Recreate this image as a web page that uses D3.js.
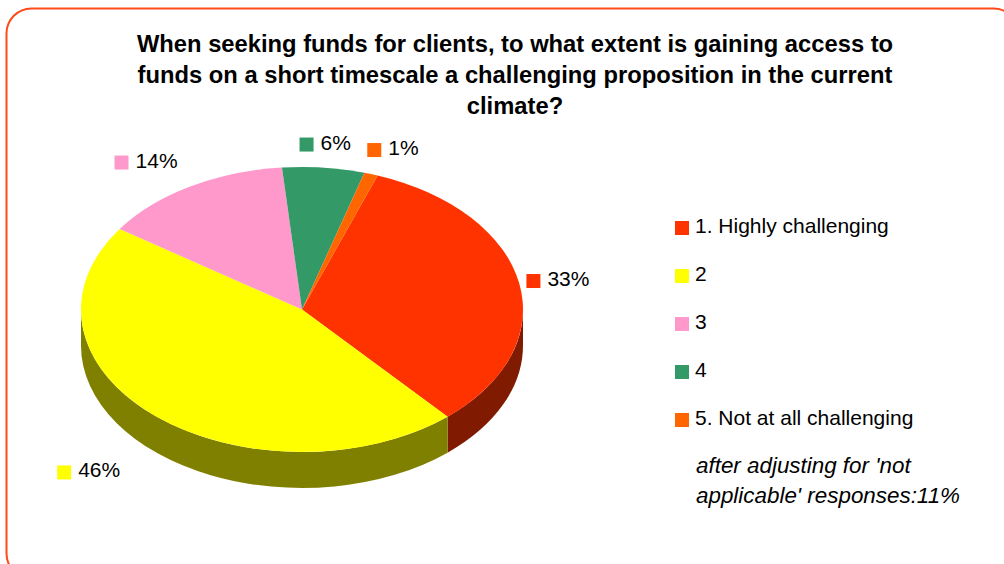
<!DOCTYPE html>
<html>
<head>
<meta charset="utf-8">
<script src="https://cdn.jsdelivr.net/npm/d3@7"></script>
<style>
  html, body { margin: 0; padding: 0; background: #ffffff; }
  svg { display: block; }
  text { font-family: Arial, "Liberation Sans", sans-serif; fill: #000; }
</style>
</head>
<body>
<svg id="chart" width="1004" height="564"></svg>
<script>
// Survey answers, share of respondents (%)
const categories = ["1. Highly challenging", "2", "3", "4", "5. Not at all challenging"];
const shares = [33, 46, 14, 6, 1];
const topColors = ["#FF3300", "#FFFF00", "#FF99CC", "#339966", "#FF6600"];
const sideColors = ["#801A00", "#808000", "#804C66", "#1A4D33", "#803300"];
const titleLines = [
  "When seeking funds for clients, to what extent is gaining access to",
  "funds on a short timescale a challenging proposition in the current",
  "climate?"
];
const noteLines = ["after adjusting for 'not", "applicable' responses:11%"];

const svg = d3.select("#chart");

// rounded frame
svg.append("rect")
  .attr("x", 6.5).attr("y", 8.5)
  .attr("width", 1012).attr("height", 570)
  .attr("rx", 25).attr("ry", 25)
  .attr("fill", "#fff")
  .attr("stroke", "#FF4A1C")
  .attr("stroke-width", 2);

// title, slightly widened
svg.append("g")
  .attr("transform", "translate(515,0) scale(1.033,1)")
  .selectAll("text")
  .data(titleLines)
  .join("text")
  .attr("x", 0)
  .attr("y", (d, i) => 52 + i * 31)
  .attr("text-anchor", "middle")
  .attr("font-weight", "bold")
  .attr("font-size", 23)
  .text(d => d);

// 3D pie geometry
const cx = 302, cy = 309.5, rx = 221, ry = 142.5, depth = 36;
const firstAngle = 20 * Math.PI / 180;

const pie = d3.pie()
  .sort(null)
  .startAngle(firstAngle)
  .endAngle(firstAngle + 2 * Math.PI)
  .value(d => d);
const arcs = pie(shares);

const ex = a => cx + rx * Math.sin(a);
const ey = a => cy - ry * Math.cos(a);

// outer wall: only the front half (angles between PI/2 and 3PI/2) is visible
function wallPath(a0, a1) {
  const segs = [];
  // the slices may wrap past 2PI; test the angle range and its shifted copies
  [0, 2 * Math.PI, -2 * Math.PI].forEach(off => {
    const s = Math.max(a0 + off, Math.PI / 2);
    const e = Math.min(a1 + off, 3 * Math.PI / 2);
    if (e > s) segs.push([s, e]);
  });
  return segs.map(([s, e]) => {
    const large = (e - s) > Math.PI ? 1 : 0;
    return `M${ex(s)},${ey(s)}` +
      `A${rx},${ry} 0 ${large} 1 ${ex(e)},${ey(e)}` +
      `L${ex(e)},${ey(e) + depth}` +
      `A${rx},${ry} 0 ${large} 0 ${ex(s)},${ey(s) + depth}Z`;
  }).join("");
}

const pieG = svg.append("g");
pieG.append("g").selectAll("path")
  .data(arcs)
  .join("path")
  .attr("d", d => wallPath(d.startAngle, d.endAngle))
  .attr("fill", (d, i) => sideColors[i]);

const arc = d3.arc().innerRadius(0).outerRadius(rx);
pieG.append("g")
  .attr("transform", `translate(${cx},${cy}) scale(1,${ry / rx})`)
  .selectAll("path")
  .data(arcs)
  .join("path")
  .attr("d", arc)
  .attr("fill", (d, i) => topColors[i]);

// percentage labels, set outside each slice at its mid angle
const labelFont = 21, keySize = 14, keyGap = 7;
const labelRx = rx * 1.1, labelRy = ry * 1.1;
const labelShift = [[-14, 2], [-31, 3], [-17, -4], [-3, 0], [7, -2]];
const labelG = svg.append("g");
arcs.forEach((d, i) => {
  const g = labelG.append("g");
  const t = g.append("text")
    .attr("font-size", labelFont)
    .attr("x", keySize + keyGap)
    .attr("y", 5)
    .text(d3.format("d")(d.data) + "%");
  const w = keySize + keyGap + t.node().getComputedTextLength();
  const h = 18;
  const m = (d.startAngle + d.endAngle) / 2;
  const s = Math.sin(m), c = Math.cos(m);
  const gx = cx + labelRx * s + s * w / 2 + labelShift[i][0];
  const gy = cy - labelRy * c - c * h / 2 + (c < 0 ? depth : 0) + labelShift[i][1];
  g.attr("transform", `translate(${gx - w / 2},${gy})`);
  g.insert("rect", "text")
    .attr("x", 0).attr("y", -keySize / 2)
    .attr("width", keySize).attr("height", keySize)
    .attr("fill", topColors[i]);
});

// legend
const legend = svg.append("g").attr("transform", "translate(675,221)");
const rows = legend.selectAll("g")
  .data(categories)
  .join("g")
  .attr("transform", (d, i) => `translate(0,${i * 48})`);
rows.append("rect")
  .attr("width", keySize).attr("height", keySize)
  .attr("fill", (d, i) => topColors[i]);
rows.append("text")
  .attr("x", 20).attr("y", 12)
  .attr("font-size", labelFont)
  .text(d => d);

// footnote
svg.append("g").selectAll("text")
  .data(noteLines)
  .join("text")
  .attr("x", 696)
  .attr("y", (d, i) => 473 + i * 30)
  .attr("font-size", 22.4)
  .attr("font-style", "italic")
  .text(d => d);
</script>
</body>
</html>
